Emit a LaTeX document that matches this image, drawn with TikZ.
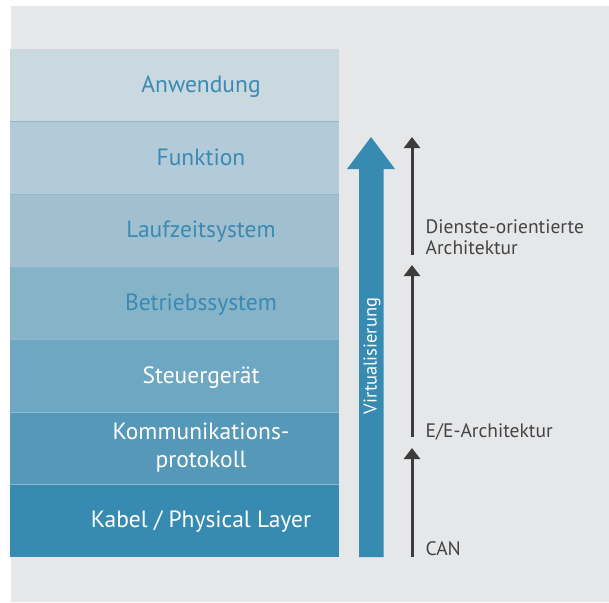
\documentclass[tikz,border=0pt]{standalone}
\usepackage{fontspec}
\setmainfont{PT Sans}
\usetikzlibrary{arrows.meta}
\definecolor{bg}{HTML}{E6E7E9}
\definecolor{cA}{HTML}{CAD8E0}
\definecolor{cB}{HTML}{B3CBD8}
\definecolor{cC}{HTML}{A0C0D0}
\definecolor{cD}{HTML}{85B3C8}
\definecolor{cE}{HTML}{6EA7C2}
\definecolor{cF}{HTML}{5598B8}
\definecolor{cG}{HTML}{378AB0}
\definecolor{sep}{HTML}{8DB9CE}
\definecolor{tblue}{HTML}{3A8AB3}
\definecolor{dgray}{HTML}{3C3C3C}
\definecolor{lgray}{HTML}{444444}
\tikzset{
  layer/.style={rectangle, inner sep=0pt, minimum width=329pt, minimum height=72.6pt, draw=none},
  laytxt/.style={font=\fontsize{23.5}{28}\selectfont, align=center, inner sep=0pt, anchor=base},
  sidetxt/.style={font=\fontsize{19.5}{21.5}\selectfont, text=lgray, align=left, inner sep=0pt},
  evo/.style={line width=3pt, draw=dgray, -{Triangle[width=16pt,length=11pt]}},
}
\begin{document}
\begin{tikzpicture}[x=1pt,y=-1pt]
\useasboundingbox (0,0) rectangle (609,602);
\fill[white] (0,0) rectangle (609,602);
\fill[bg] (11,6) rectangle (609,602);
% layers
\node[layer, fill=cA] (l1) at (174.5,85.3) {};
\node[layer, fill=cB] (l2) at (174.5,157.9) {};
\node[layer, fill=cC] (l3) at (174.5,230.5) {};
\node[layer, fill=cD] (l4) at (174.5,303.1) {};
\node[layer, fill=cE] (l5) at (174.5,375.7) {};
\node[layer, fill=cF] (l6) at (174.5,448.3) {};
\node[layer, fill=cG] (l7) at (174.5,520.9) {};
\foreach \a/\b in {l1/l2,l2/l3,l3/l4,l4/l5,l5/l6,l6/l7}
  \draw[sep, line width=0.8pt] (\a.south west) -- (\a.south east);
% layer texts (placed by baseline)
\node[laytxt, text=tblue] (t1) at (201,92.5) {Anwendung};
\node[laytxt, text=tblue] (t2) at (201,165) {Funktion};
\node[laytxt, text=tblue] (t3) at (201,237.5) {Laufzeitsystem};
\node[laytxt, text=tblue] (t4) at (201,310) {Betriebssystem};
\node[laytxt, text=white] (t5) at (201,383) {Steuergerät};
\node[laytxt, text=white, anchor=center] (t6) at (201,447.5) {Kommunikations-\\protokoll};
\node[laytxt, text=white] (t7) at (201,527.5) {Kabel / Physical Layer};
% big arrow
\fill[cG] (359,557) -- (359,169) -- (347,169) -- (371,137) -- (395,169) -- (383.5,169) -- (383.5,557) -- cycle;
\node[font=\fontsize{18.5}{22}\selectfont, text=white, rotate=90, inner sep=0pt] (virt) at (372,356) {Virtualisierung};
% evolution arrows
\coordinate (a1s) at (412,557);
\coordinate (a1e) at (412,448);
\coordinate (a2s) at (412,437);
\coordinate (a2e) at (412,265);
\coordinate (a3s) at (412,255);
\coordinate (a3e) at (412,137);
\draw[evo] (a1s) -- (a1e);
\draw[evo] (a2s) -- (a2e);
\draw[evo] (a3s) -- (a3e);
\node[sidetxt, anchor=base west] (can) at (425.5,555.5) {CAN};
\node[sidetxt, anchor=base west] (ee) at (425.5,437.3) {E/E-Architektur};
\node[sidetxt, anchor=west] (soa) at (425.5,237) {Dienste-orientierte\\Architektur};
\end{tikzpicture}
\end{document}
